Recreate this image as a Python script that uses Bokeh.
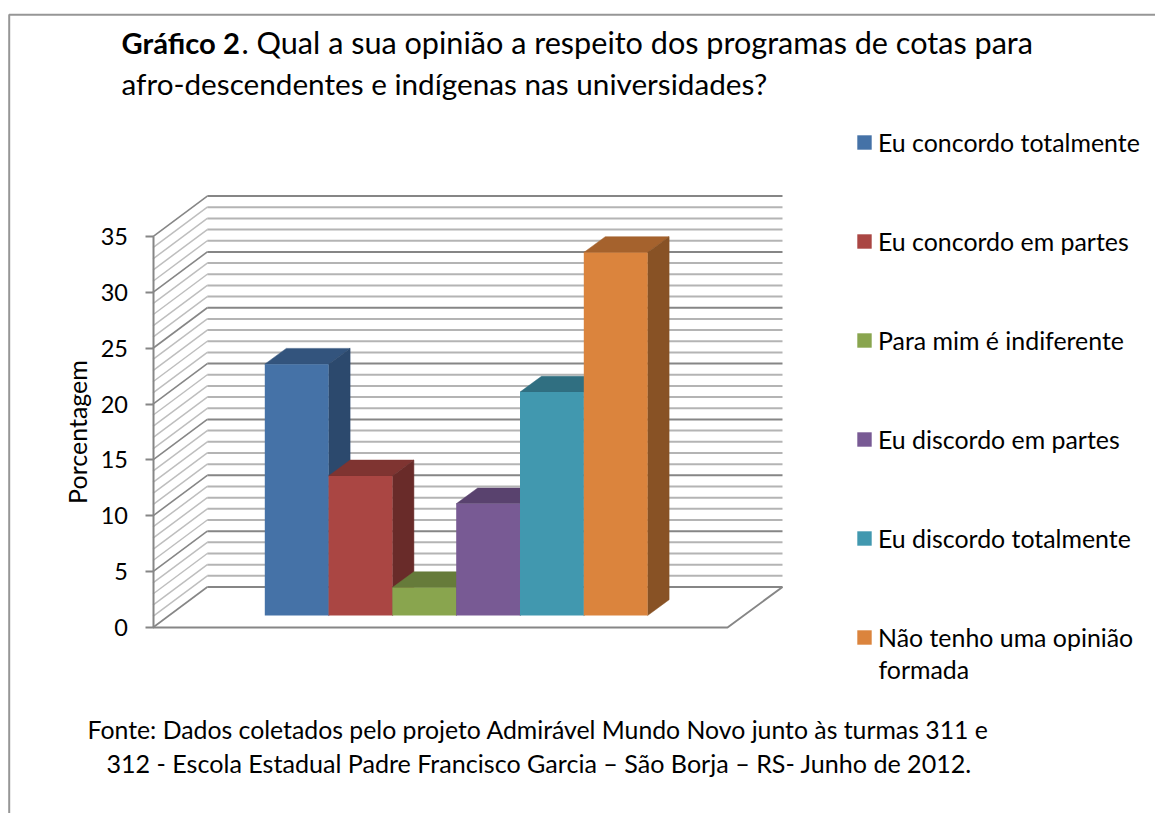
from bokeh.embed import file_html
from bokeh.resources import INLINE
from bokeh.plotting import figure
from bokeh.models import Range1d, LinearAxis, FixedTicker, Legend, LegendItem, Label

# ---- data -------------------------------------------------------------
categories = ["Eu concordo totalmente", "Eu concordo em partes", "Para mim é indiferente",
              "Eu discordo em partes", "Eu discordo totalmente", "Não tenho uma opinião\nformada"]
values = [22.5, 12.5, 2.5, 10.0, 20.0, 32.5]
y_ticks = [0, 5, 10, 15, 20, 25, 30, 35]
grid_values = list(range(0, 36))
front_colors = ["#4572A7", "#AA4643", "#89A54E", "#785A94", "#4198AF", "#DB843D"]
top_colors = ["#33547D", "#7F3431", "#667B3A", "#59426E", "#306F81", "#A5622D"]
side_colors = ["#2C496D", "#692B29", "#546530", "#4A375B", "#285C6B", "#885225"]

title_bold = "Gráfico 2"
title_rest = ". Qual a sua opinião a respeito dos programas de cotas para"
title_line2 = "afro-descendentes e indígenas nas universidades?"
foot_1 = "Fonte: Dados coletados pelo projeto Admirável Mundo Novo junto às turmas 311 e"
foot_2 = "312 - Escola Estadual Padre Francisco Garcia – São Borja – RS- Junho de 2012."

# ---- layout (page pixels -> data units) --------------------------------
W, H = 1155, 813
BAR_PX = 63.8; X0_PX = 264.3
UNIT_PX = 11.17; Y0_PX = 627.0
def X(px): return (px - X0_PX) / BAR_PX
def Y(py): return (Y0_PX - py) / UNIT_PX

FONT = "Lato"
p = figure(width=W, height=H, output_backend="svg", toolbar_location=None,
           x_range=Range1d(X(0), X(W)), y_range=Range1d(Y(H), Y(0)),
           x_axis_location=None, y_axis_location=None, min_border=0,
           outline_line_color=None, background_fill_color="white", border_fill_color="white")
p.grid.visible = False

# page frame
p.line([X(8.7), X(8.7), X(W)], [Y(H), Y(14.3), Y(14.3)], line_color="#969696", line_width=2)

# walls
ax_x, back_x, back_r, front_r = X(152.5), X(206.8), X(782), X(727)
back_dy = (Y0_PX - 586.5) / UNIT_PX
minor = [v for v in grid_values if v % 5]
major = [v for v in grid_values if v % 5 == 0]
p.multi_line([[ax_x, back_x] for v in minor], [[v, v + back_dy] for v in minor], line_color="#BEBEBE", line_width=1.5)
p.multi_line([[back_x, back_r] for v in minor], [[v + back_dy, v + back_dy] for v in minor], line_color="#B4B4B4", line_width=2)
p.multi_line([[ax_x, back_x] for v in major], [[v, v + back_dy] for v in major], line_color="#868686", line_width=1.6)
p.multi_line([[back_x, back_r] for v in major], [[v + back_dy, v + back_dy] for v in major], line_color="#868686", line_width=2)
p.line([ax_x, front_r, back_r], [0, 0, back_dy], line_color="#868686", line_width=2)

# bars
base = (Y0_PX - 615.0) / UNIT_PX
dx, dy = 21.5 / BAR_PX, 15.8 / UNIT_PX
items = []
for i, (cat, v) in enumerate(zip(categories, values)):
    t = base + v
    p.patch([i, i + dx, i + 1 + dx, i + 1], [t, t + dy, t + dy, t], fill_color=top_colors[i], line_color=top_colors[i], line_width=0.5)
    p.patch([i + 1, i + 1 + dx, i + 1 + dx, i + 1], [base, base + dy, t + dy, t], fill_color=side_colors[i], line_color=side_colors[i], line_width=0.5)
    r = p.vbar(x=[i + 0.5], width=1, bottom=base, top=[t], fill_color=front_colors[i], line_color=None)
    items.append(LegendItem(label=cat.split("\n")[0], renderers=[r]))

# axis
axis = LinearAxis(fixed_location=ax_x, ticker=FixedTicker(ticks=y_ticks), bounds=(0, 35),
                  axis_label="Porcentagem", axis_label_text_font=FONT, axis_label_text_font_size="25px",
                  axis_label_text_font_style="normal", axis_label_text_color="#000000", axis_label_standoff=6,
                  major_label_text_font=FONT, major_label_text_font_size="23.5px", major_label_text_color="#000000",
                  major_label_standoff=17,
                  major_tick_in=0, major_tick_out=8, minor_tick_in=0, minor_tick_out=0,
                  axis_line_color="#868686", axis_line_width=2, major_tick_line_color="#868686", major_tick_line_width=2)
p.add_layout(axis, "left")

legend = Legend(items=items, location=(855, 161), orientation="vertical", padding=0, margin=0,
                spacing=69, glyph_width=18, glyph_height=18, label_standoff=5,
                label_text_font=FONT, label_text_font_size="24.9px", label_text_color="#000000",
                label_height=30, border_line_color=None, background_fill_color=None, background_fill_alpha=0)
p.add_layout(legend, "center")

def label(px, py, text, size, bold=False):
    p.add_layout(Label(x=X(px), y=Y(py), text=text, text_font=FONT, text_font_size=size,
                       text_font_style="bold" if bold else "normal", text_color="#000000",
                       text_baseline="alphabetic", text_align="left"))

label(121, 41.5, title_bold, "29.2px", True)
label(241, 41.5, title_rest, "30.6px")
label(121, 83, title_line2, "29.7px")
label(87, 729, foot_1, "24.8px")
label(106, 762, foot_2, "25.1px")
label(878, 668, categories[5].split("\n")[1], "24.9px")

open("out.html", "w").write(file_html(p, INLINE))
